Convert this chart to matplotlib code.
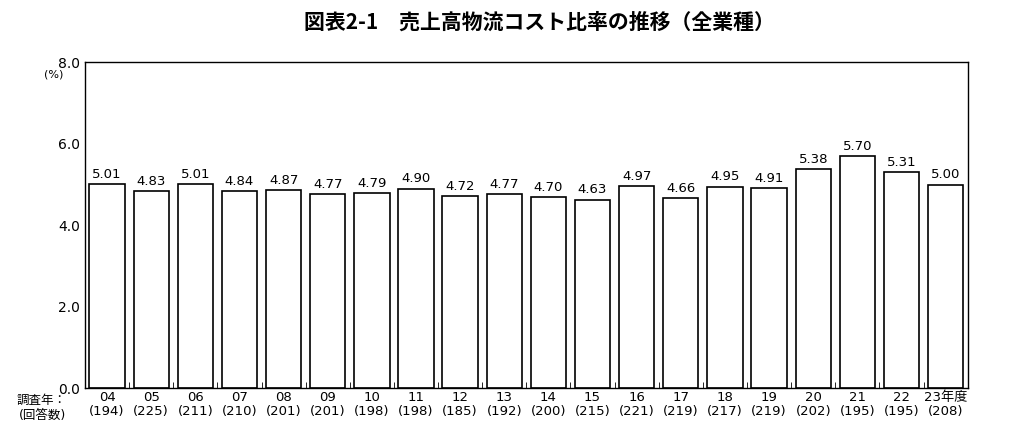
import matplotlib.pyplot as plt
import numpy as np

plt.rcParams['font.family'] = ['DejaVu Sans', 'Noto Sans CJK JP']

years = ['04', '05', '06', '07', '08', '09', '10', '11', '12', '13', '14',
         '15', '16', '17', '18', '19', '20', '21', '22', '23年度']
counts = [194, 225, 211, 210, 201, 201, 198, 198, 185, 192, 200,
          215, 221, 219, 217, 219, 202, 195, 195, 208]
ratios = [5.01, 4.83, 5.01, 4.84, 4.87, 4.77, 4.79, 4.90, 4.72, 4.77, 4.70,
          4.63, 4.97, 4.66, 4.95, 4.91, 5.38, 5.70, 5.31, 5.00]

fig = plt.figure(figsize=(10.24, 4.37), dpi=100)
ax = fig.add_axes([0.083, 0.112, 0.862, 0.745])

x = np.arange(len(years))
ax.bar(x, ratios, width=0.8, color='white', edgecolor='black', linewidth=1.2)
for xi, v in zip(x, ratios):
    ax.text(xi, v + 0.08, f'{v:.2f}', ha='center', va='bottom', fontsize=9.5)

ax.set_xlim(-0.5, len(years) - 0.5)
ax.set_ylim(0, 8)
ax.set_yticks([0, 2, 4, 6, 8])
ax.set_yticklabels(['0.0', '2.0', '4.0', '6.0', '8.0'], fontsize=10)
ax.set_xticks(x)
ax.set_xticklabels([f'{y}\n({c})' for y, c in zip(years, counts)],
                   fontsize=9.5, linespacing=1.15)
ax.tick_params(axis='x', length=0, pad=2)
ax.set_xticks(x[:-1] + 0.5, minor=True)
ax.tick_params(axis='x', which='minor', direction='in', length=4)
ax.tick_params(axis='y', direction='in', length=0)
for s in ax.spines.values():
    s.set_linewidth(1.0)

ax.text(-0.035, 0.955, '(%)', transform=ax.transAxes, fontsize=8, ha='center')
fig.text(0.065, 0.066, '調査年：\n(回答数)', ha='right', va='center',
         fontsize=9, linespacing=1.25)

fig.text(0.527, 0.95, '図表2-1　売上高物流コスト比率の推移（全業種）',
         ha='center', va='center', fontsize=15, fontweight='bold',
         family=['Noto Sans CJK JP', 'DejaVu Sans'])

fig.savefig('out.png', dpi=100)
